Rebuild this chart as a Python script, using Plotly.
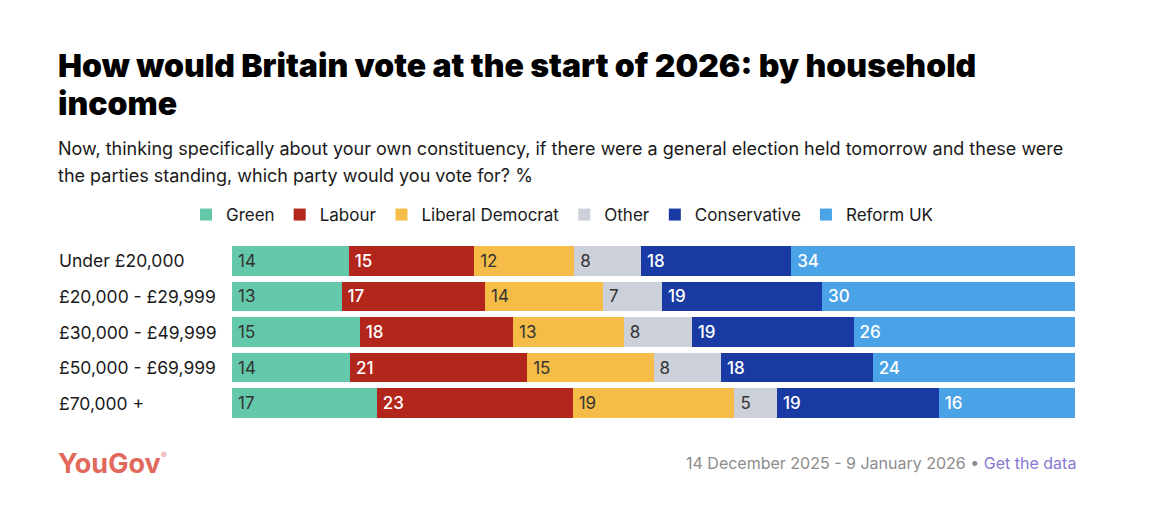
import plotly.graph_objects as go

categories = ["Under £20,000", "£20,000 - £29,999", "£30,000 - £49,999", "£50,000 - £69,999", "£70,000 +"]
parties = ["Green", "Labour", "Liberal Democrat", "Other", "Conservative", "Reform UK"]
green = [14, 13, 15, 14, 17]
labour = [15, 17, 18, 21, 23]
libdem = [12, 14, 13, 15, 19]
other = [8, 7, 8, 8, 5]
conservative = [18, 19, 19, 18, 19]
reform = [34, 30, 26, 24, 16]

series = [green, labour, libdem, other, conservative, reform]
colors = ["#64c8aa", "#b3261c", "#f5bd48", "#ccd0d8", "#193aa3", "#4aa3e6"]
text_colors = ["#333333", "#ffffff", "#333333", "#333333", "#ffffff", "#ffffff"]
text_weights = [400, 500, 400, 400, 500, 500]

FONT = "Inter"
W, H = 1169, 520
L, R, T, B = 232, 94, 243, 99

fig = go.Figure()
for name, vals, col, tcol, tw in zip(parties, series, colors, text_colors, text_weights):
    fig.add_trace(go.Bar(
        y=categories, x=vals, name=name, orientation="h",
        marker=dict(color=col, line=dict(width=0)),
        text=["\u2009" + str(v) for v in vals], textposition="inside",
        insidetextanchor="start",
        textfont=dict(color=tcol, size=17, family=FONT, weight=tw),
        constraintext="none",
        hoverinfo="skip",
    ))

def py(p):
    return (H - B - p) / (H - T - B)

def pxx(p):
    return (p - L) / (W - L - R)

def txt(text, x, y, size, color, xanchor="left", weight=None):
    f = dict(size=size, family=FONT, color=color)
    if weight:
        f["weight"] = weight
    return dict(text=text, x=pxx(x), y=py(y), xref="paper", yref="paper",
                xanchor=xanchor, yanchor="middle", align="left", showarrow=False, font=f)

annotations = [
    txt("How would Britain vote at the start of 2026: by household", 56, 66, 32, "#000000", weight=900),
    txt("income", 56, 103, 32, "#000000", weight=900),
    txt("Now, thinking specifically about your own constituency, if there were a general election held tomorrow and these were",
        56, 148, 18, "#1a1a1a"),
    txt("the parties standing, which party would you vote for? %", 56, 175, 18, "#1a1a1a"),
    txt("YouGov", 56, 463, 27, "#e2685c", weight=700),
    txt("®", 159, 455, 8, "#e2685c"),
    txt("14 December 2025 - 9 January 2026 • <span style='color:#8878d0'>Get the data</span>",
        1078, 463, 16, "#8c8c8c", xanchor="right"),
]
for c in categories:
    annotations.append(dict(text=c, x=pxx(57), y=c, xref="paper", yref="y",
                            xanchor="left", yanchor="middle", showarrow=False,
                            font=dict(size=17.5, family=FONT, color="#1a1a1a")))

fig.update_layout(
    width=W, height=H,
    margin=dict(l=L, r=R, t=T, b=B, pad=0),
    paper_bgcolor="white", plot_bgcolor="white",
    barmode="stack", barnorm="percent", bargap=0.17,
    font=dict(family=FONT, size=16, color="#1a1a1a"),
    xaxis=dict(visible=False, range=[0, 100], fixedrange=True),
    yaxis=dict(autorange="reversed", showticklabels=False, showgrid=False,
               zeroline=False, fixedrange=True),
    showlegend=True,
    legend=dict(orientation="h", x=pxx(186), y=py(215),
                xanchor="left", yanchor="middle", font=dict(size=17, family=FONT, color="#1a1a1a"),
                itemclick=False, itemdoubleclick=False, traceorder="normal",
                itemwidth=30, bgcolor="rgba(0,0,0,0)"),
    annotations=annotations,
)

fig.write_html("out.html", config={"displayModeBar": False})
